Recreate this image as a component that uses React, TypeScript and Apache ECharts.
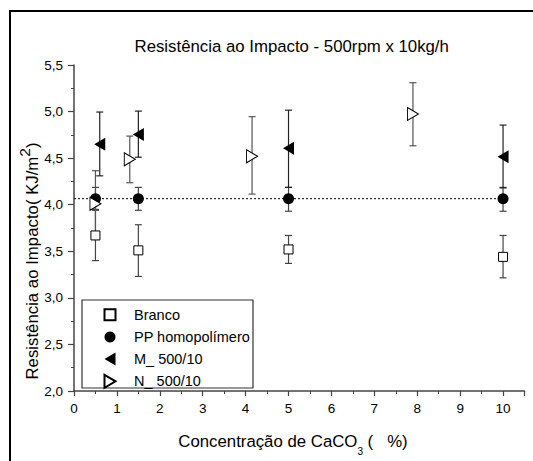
import React, { useEffect, useRef } from 'react';
import * as echarts from 'echarts';

// ---- data ----
const brancoX = [0.5, 1.5, 5, 10];
const brancoY = [3.67, 3.51, 3.52, 3.44];
const brancoLow = [3.4, 3.23, 3.37, 3.215];
const brancoHigh = [3.95, 3.785, 3.67, 3.67];

const ppX = [0.5, 1.5, 5, 10];
const ppY = [4.065, 4.065, 4.065, 4.065];
const ppLow = [3.94, 3.94, 3.93, 3.93];
const ppHigh = [4.186, 4.186, 4.186, 4.186];

const mX = [0.6, 1.5, 5, 10];
const mY = [4.65, 4.755, 4.605, 4.515];
const mLow = [4.31, 4.51, 4.186, 4.18];
const mHigh = [4.995, 5.005, 5.015, 4.855];

const nX = [0.5, 1.3, 4.15, 7.9];
const nY = [4.01, 4.487, 4.52, 4.974];
const nLow = [3.68, 4.236, 4.114, 4.633];
const nHigh = [4.365, 4.737, 4.945, 5.31];

const fitX = [0, 10];
const fitY = [4.065, 4.065];

const seriesNames = ['Branco', 'PP homopolímero', 'M_ 500/10', 'N_ 500/10'];
const titleText = 'Resistência ao Impacto - 500rpm x 10kg/h';

const FONT = 'Arial, "Liberation Sans", sans-serif';

const SQUARE = 'path://M0,0 L10,0 L10,10 L0,10 Z';
const TRI_LEFT = 'path://M0,6.5 L11,0 L11,13 Z';
const TRI_RIGHT = 'path://M0,0 L11,6.5 L0,13 Z';

function pts(xs: number[], ys: number[]) {
  return xs.map((x, i) => [x, ys[i]]);
}
function errs(xs: number[], lo: number[], hi: number[]) {
  return xs.map((x, i) => [x, lo[i], hi[i]]);
}

function errorSeries(data: number[][], color: string) {
  return {
    type: 'custom',
    z: 1,
    silent: true,
    data,
    encode: { x: 0, y: [1, 2] },
    renderItem: (params: any, api: any) => {
      const x = api.value(0);
      const lo = api.coord([x, api.value(1)]);
      const hi = api.coord([x, api.value(2)]);
      const hw = 3.5;
      const st = { stroke: color, lineWidth: 1.2 };
      return {
        type: 'group',
        children: [
          { type: 'line', shape: { x1: lo[0], y1: lo[1], x2: hi[0], y2: hi[1] }, style: st },
          { type: 'line', shape: { x1: lo[0] - hw, y1: lo[1], x2: lo[0] + hw, y2: lo[1] }, style: st },
          { type: 'line', shape: { x1: hi[0] - hw, y1: hi[1], x2: hi[0] + hw, y2: hi[1] }, style: st },
        ],
      };
    },
  };
}

export default function App() {
  const ref = useRef<HTMLDivElement>(null);
  useEffect(() => {
    if (!ref.current) return;
    const chart = echarts.init(ref.current, undefined, { renderer: 'svg' });
    const axisColor = '#444';
    chart.setOption({
      animation: false,
      backgroundColor: '#fff',
      textStyle: { fontFamily: FONT },
      grid: { left: 74, top: 65, right: 8.5, bottom: 70, containLabel: false },
      xAxis: [
        {
          type: 'value',
          min: 0,
          max: 10.5,
          interval: 1,
          position: 'bottom',
          axisLine: { show: true, onZero: false, lineStyle: { color: axisColor, width: 1.5 } },
          axisTick: { show: true, length: 5, lineStyle: { color: axisColor, width: 1.2 } },
          axisLabel: {
            color: '#000',
            fontSize: 13.5,
            fontFamily: FONT,
            margin: 10,
            formatter: (v: number) => (Math.abs(v - Math.round(v)) < 1e-6 ? String(Math.round(v)) : ''),
          },
          splitLine: { show: false },
        },
        {
          type: 'value',
          min: 0,
          max: 10.5,
          interval: 0.5,
          position: 'bottom',
          axisLine: { show: false, onZero: false },
          axisTick: { show: true, length: 3, lineStyle: { color: axisColor, width: 1 } },
          axisLabel: { show: false },
          splitLine: { show: false },
        },
      ],
      yAxis: {
        type: 'value',
        min: 2,
        max: 5.5,
        interval: 0.5,
        axisLine: { show: true, onZero: false, lineStyle: { color: axisColor, width: 1.5 } },
        axisTick: { show: true, length: 6, lineStyle: { color: axisColor, width: 1.2 } },
        minorTick: { show: true, splitNumber: 2, length: 3, lineStyle: { color: axisColor, width: 1 } },
        axisLabel: {
          color: '#000',
          fontSize: 13.5,
          fontFamily: FONT,
          margin: 11,
          formatter: (v: number) => v.toFixed(1).replace('.', ','),
        },
        splitLine: { show: false },
        minorSplitLine: { show: false },
      },
      legend: {
        orient: 'vertical',
        left: 103.5,
        top: 307.2,
        itemWidth: 11,
        itemHeight: 13,
        itemGap: 7.2,
        padding: 0,
        data: seriesNames,
        textStyle: {
          fontSize: 14.5,
          lineHeight: 11,
          color: '#000',
          fontFamily: FONT,
          padding: [0, 0, 0, 13.5],
        },
        selectedMode: false,
      },
      graphic: [
        {
          type: 'rect',
          z: 0,
          shape: { x: 10, y: 11, width: 700, height: 700 },
          style: { fill: 'none', stroke: '#000', lineWidth: 2 },
        },
        {
          type: 'rect',
          z: 1,
          shape: { x: 82, y: 300, width: 171, height: 88 },
          style: { fill: '#fff', stroke: '#333', lineWidth: 1.2 },
        },
        {
          type: 'text',
          x: 291.7,
          y: 46.7,
          style: {
            text: titleText,
            fontSize: 16.8,
            fontFamily: FONT,
            fill: '#000',
            align: 'center',
            verticalAlign: 'middle',
          },
        },
        {
          type: 'text',
          x: 293,
          y: 441.7,
          style: {
            text: '{a|Concentração de CaCO}{s|3}{a| (\u00a0\u00a0\u00a0%)}',
            align: 'center',
            verticalAlign: 'middle',
            fill: '#000',
            rich: {
              a: { fontSize: 16.8, fontFamily: FONT, lineHeight: 30, fill: '#000' },
              s: { fontSize: 10, fontFamily: FONT, lineHeight: 10, verticalAlign: 'bottom', fill: '#000' },
            },
          },
        },
        {
          type: 'text',
          x: 32.3,
          y: 261,
          rotation: Math.PI / 2,
          style: {
            text: '{a|Resistência ao Impacto(\u00a0KJ/m}{p|2}{a|)}',
            align: 'center',
            verticalAlign: 'middle',
            fill: '#000',
            rich: {
              a: { fontSize: 16.8, fontFamily: FONT, lineHeight: 32, fill: '#000' },
              p: { fontSize: 15.5, fontFamily: FONT, lineHeight: 15, verticalAlign: 'top', fill: '#000' },
            },
          },
        },
      ],
      series: [
        errorSeries(errs(brancoX, brancoLow, brancoHigh), '#444'),
        errorSeries(errs(ppX, ppLow, ppHigh), '#444'),
        errorSeries(errs(mX, mLow, mHigh), '#222'),
        errorSeries(errs(nX, nLow, nHigh), '#555'),
        {
          type: 'line',
          data: pts(fitX, fitY),
          showSymbol: false,
          symbol: 'none',
          z: 1.5,
          silent: true,
          lineStyle: { color: '#000', width: 1, type: [2, 2] },
          tooltip: { show: false },
        },
        {
          name: seriesNames[0],
          type: 'scatter',
          z: 3,
          symbol: SQUARE,
          symbolSize: 9,
          data: pts(brancoX, brancoY),
          itemStyle: { color: '#fff', borderColor: '#000', borderWidth: 1, opacity: 1 },
        },
        {
          name: seriesNames[1],
          type: 'scatter',
          z: 3,
          symbol: 'circle',
          symbolSize: 11,
          data: pts(ppX, ppY),
          itemStyle: { color: '#000', opacity: 1 },
        },
        {
          name: seriesNames[2],
          type: 'scatter',
          z: 3,
          symbol: TRI_LEFT,
          symbolSize: [11, 13],
          data: pts(mX, mY),
          itemStyle: { color: '#000', opacity: 1 },
        },
        {
          name: seriesNames[3],
          type: 'scatter',
          z: 3,
          symbol: TRI_RIGHT,
          symbolSize: [11, 13],
          data: pts(nX, nY),
          itemStyle: { color: '#fff', borderColor: '#000', borderWidth: 1, opacity: 1 },
        },
      ],
    });
    return () => chart.dispose();
  }, []);
  return (
    <div
      ref={ref}
      style={{ position: 'absolute', left: 0, top: 0, width: 533, height: 461 }}
    />
  );
}
